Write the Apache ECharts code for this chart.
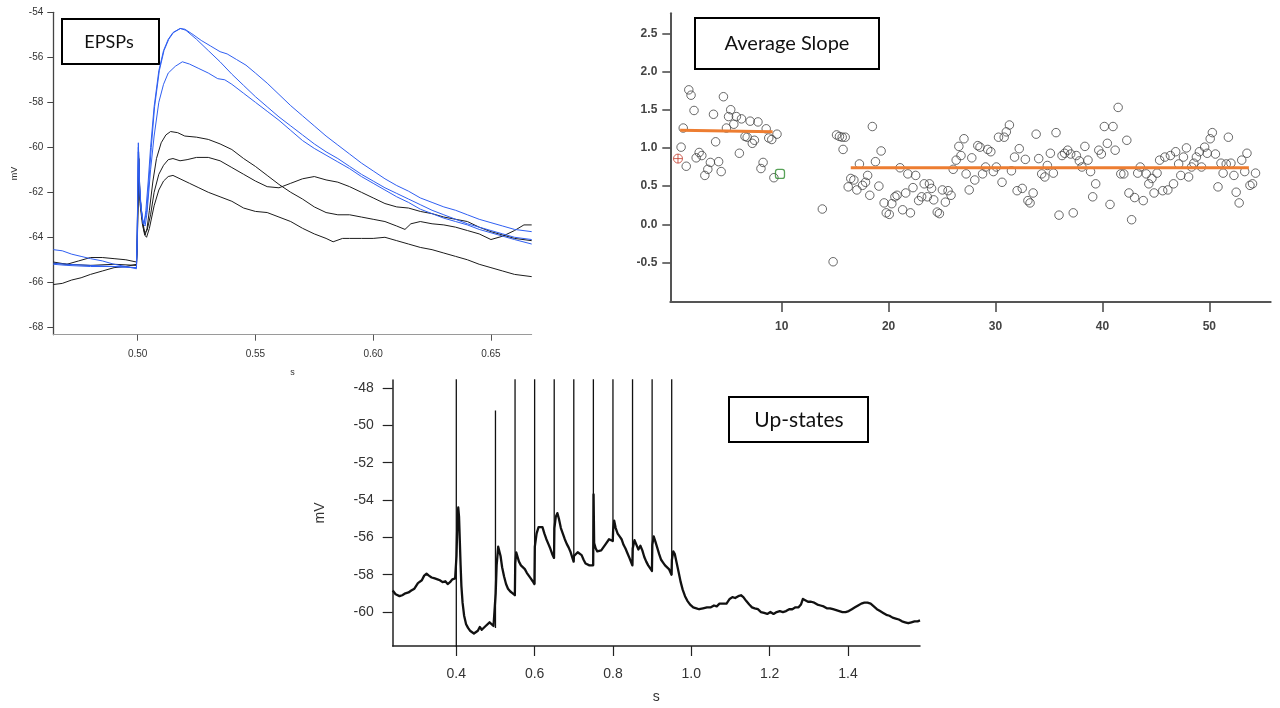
<!DOCTYPE html>
<html>
<head>
<meta charset="utf-8">
<script src="https://cdn.jsdelivr.net/npm/echarts@6/dist/echarts.min.js"></script>
<style>
  html, body { margin: 0; padding: 0; background: #ffffff; }
  #chart { width: 1280px; height: 708px; }
</style>
</head>
<body>
<div id="chart"></div>
<script>
// ---------- EPSPs: membrane potential traces (time s, mV) ----------
const epspXTicks = [0.50, 0.55, 0.60, 0.65];
const epspYTicks = [-68, -66, -64, -62, -60, -58, -56, -54];

const epspBlueA = [[0.4642,-64.55],[0.468,-64.6],[0.472,-64.75],[0.476,-64.85],[0.48,-64.95],[0.485,-65.05],[0.49,-65.2],[0.495,-65.3],[0.4995,-65.4],[0.4998,-64.2],[0.5003,-59.8],[0.5008,-61.5],[0.5013,-62.5],[0.5022,-63.3],[0.5028,-63.4],[0.5035,-62.8],[0.5045,-61.5],[0.5055,-60.0],[0.507,-58.2],[0.509,-56.6],[0.511,-55.7],[0.513,-55.2],[0.515,-54.9],[0.518,-54.72],[0.52,-54.75],[0.523,-54.95],[0.527,-55.25],[0.531,-55.5],[0.535,-55.75],[0.538,-55.85],[0.542,-56.1],[0.546,-56.35],[0.55,-56.7],[0.555,-57.15],[0.56,-57.65],[0.565,-58.15],[0.57,-58.6],[0.575,-59.05],[0.58,-59.5],[0.585,-59.9],[0.59,-60.3],[0.595,-60.7],[0.60,-61.05],[0.605,-61.4],[0.61,-61.7],[0.615,-61.95],[0.62,-62.25],[0.625,-62.45],[0.63,-62.65],[0.635,-62.8],[0.64,-63.0],[0.645,-63.2],[0.65,-63.35],[0.655,-63.5],[0.66,-63.65],[0.6673,-63.75]];
const epspBlueB = [[0.4642,-65.2],[0.47,-65.25],[0.48,-65.3],[0.49,-65.3],[0.4995,-65.35],[0.4998,-64.0],[0.5003,-60.0],[0.5008,-61.7],[0.5015,-62.7],[0.5024,-63.4],[0.503,-63.45],[0.5038,-62.9],[0.5048,-61.5],[0.5058,-60.0],[0.5072,-58.2],[0.5092,-56.6],[0.5112,-55.7],[0.5132,-55.2],[0.5152,-54.9],[0.5182,-54.72],[0.5205,-54.8],[0.525,-55.2],[0.53,-55.7],[0.535,-56.2],[0.54,-56.75],[0.545,-57.25],[0.55,-57.75],[0.555,-58.2],[0.56,-58.65],[0.565,-59.05],[0.57,-59.45],[0.575,-59.85],[0.58,-60.2],[0.585,-60.5],[0.59,-60.85],[0.595,-61.2],[0.60,-61.5],[0.605,-61.8],[0.61,-62.05],[0.615,-62.3],[0.62,-62.55],[0.625,-62.8],[0.63,-63.0],[0.635,-63.2],[0.64,-63.4],[0.645,-63.55],[0.65,-63.7],[0.655,-63.85],[0.66,-64.0],[0.6673,-64.1]];
const epspBlueC = [[0.4642,-65.15],[0.47,-65.2],[0.48,-65.25],[0.49,-65.3],[0.4995,-65.35],[0.4998,-64.3],[0.5003,-60.2],[0.5008,-61.8],[0.5015,-62.8],[0.5024,-63.4],[0.5032,-63.5],[0.504,-62.9],[0.5055,-61.0],[0.507,-59.5],[0.509,-58.0],[0.511,-57.2],[0.513,-56.7],[0.516,-56.4],[0.519,-56.2],[0.522,-56.3],[0.526,-56.5],[0.53,-56.7],[0.534,-56.95],[0.537,-57.0],[0.54,-57.2],[0.545,-57.6],[0.55,-58.0],[0.555,-58.4],[0.56,-58.8],[0.565,-59.25],[0.57,-59.7],[0.575,-60.05],[0.58,-60.35],[0.585,-60.65],[0.59,-60.95],[0.595,-61.3],[0.60,-61.6],[0.605,-61.9],[0.61,-62.2],[0.615,-62.45],[0.62,-62.75],[0.625,-62.95],[0.63,-63.15],[0.635,-63.3],[0.64,-63.45],[0.645,-63.65],[0.65,-63.8],[0.655,-63.95],[0.66,-64.1],[0.6673,-64.3]];
const epspBlackD = [[0.4642,-65.1],[0.47,-65.2],[0.475,-65.05],[0.48,-64.9],[0.485,-64.9],[0.49,-64.95],[0.495,-65.0],[0.4995,-65.1],[0.4998,-64.0],[0.5004,-60.2],[0.5009,-62.0],[0.5015,-62.8],[0.5025,-63.6],[0.5032,-63.9],[0.504,-63.6],[0.505,-62.8],[0.5065,-61.5],[0.508,-60.5],[0.51,-59.8],[0.512,-59.45],[0.514,-59.3],[0.517,-59.35],[0.52,-59.5],[0.525,-59.55],[0.53,-59.65],[0.535,-59.85],[0.54,-60.1],[0.545,-60.5],[0.55,-60.85],[0.555,-61.25],[0.56,-61.65],[0.565,-62.0],[0.57,-62.3],[0.575,-62.65],[0.58,-62.9],[0.585,-63.0],[0.59,-63.0],[0.595,-63.1],[0.60,-63.2],[0.605,-63.3],[0.61,-63.5],[0.6135,-63.65],[0.616,-63.4],[0.62,-63.3],[0.625,-63.4],[0.63,-63.45],[0.635,-63.55],[0.64,-63.7],[0.645,-63.85],[0.65,-64.1],[0.655,-63.95],[0.66,-63.7],[0.664,-63.45],[0.6673,-63.45]];
const epspBlackE = [[0.4642,-65.15],[0.47,-65.2],[0.48,-65.25],[0.49,-65.2],[0.4995,-65.25],[0.4998,-64.5],[0.5005,-60.5],[0.501,-62.2],[0.502,-63.2],[0.503,-63.8],[0.504,-63.7],[0.5055,-63.0],[0.507,-62.0],[0.509,-61.2],[0.511,-60.8],[0.513,-60.55],[0.515,-60.5],[0.518,-60.6],[0.521,-60.55],[0.525,-60.45],[0.53,-60.45],[0.535,-60.6],[0.54,-60.9],[0.545,-61.2],[0.55,-61.5],[0.555,-61.75],[0.56,-61.8],[0.565,-61.6],[0.57,-61.4],[0.575,-61.3],[0.58,-61.45],[0.585,-61.55],[0.59,-61.75],[0.595,-62.0],[0.60,-62.25],[0.605,-62.5],[0.61,-62.65],[0.615,-62.7],[0.62,-62.85],[0.625,-62.95],[0.63,-63.1],[0.635,-63.2],[0.64,-63.3],[0.645,-63.55],[0.65,-63.75],[0.655,-63.9],[0.66,-64.05],[0.6673,-64.15]];
const epspBlackF = [[0.4642,-66.1],[0.468,-66.05],[0.472,-65.9],[0.476,-65.8],[0.48,-65.65],[0.485,-65.5],[0.49,-65.35],[0.495,-65.3],[0.4995,-65.2],[0.4998,-64.6],[0.5005,-61.0],[0.501,-62.5],[0.502,-63.4],[0.503,-63.9],[0.5038,-64.0],[0.505,-63.6],[0.507,-62.6],[0.509,-61.9],[0.511,-61.5],[0.513,-61.3],[0.515,-61.25],[0.518,-61.4],[0.522,-61.6],[0.526,-61.8],[0.53,-62.0],[0.535,-62.2],[0.54,-62.4],[0.545,-62.7],[0.55,-62.85],[0.555,-62.9],[0.56,-63.1],[0.565,-63.3],[0.57,-63.6],[0.575,-63.85],[0.58,-64.05],[0.583,-64.2],[0.587,-64.05],[0.59,-64.05],[0.595,-64.05],[0.60,-64.05],[0.605,-64.0],[0.61,-64.15],[0.615,-64.3],[0.62,-64.45],[0.625,-64.55],[0.63,-64.7],[0.635,-64.85],[0.64,-65.0],[0.645,-65.2],[0.65,-65.35],[0.655,-65.5],[0.66,-65.65],[0.6673,-65.75]];

// ---------- Average slope per sweep ----------
const slopeXTicks = [10, 20, 30, 40, 50];
const slopeYTicks = [-0.5, 0.0, 0.5, 1.0, 1.5, 2.0, 2.5];

const slopeEarly = [[0.59,1.01],[0.79,1.26],[1.07,0.76],[1.31,1.76],[1.52,1.69],[1.80,1.49],[2.0,0.87],[2.28,0.94],[2.53,0.90],[2.81,0.64],[3.09,0.72],[3.33,0.81],[3.62,1.44],[3.82,1.08],[4.10,0.82],[4.34,0.69],[4.55,1.67],[4.83,1.26],[5.03,1.41],[5.23,1.50],[5.52,1.31],[5.76,1.41],[6.04,0.93],[6.24,1.38],[6.57,1.15],[6.77,1.14],[7.05,1.35],[7.25,1.06],[7.45,1.10],[7.78,1.34],[8.06,0.73],[8.26,0.81],[8.55,1.25],[8.79,1.13],[9.07,1.11],[9.27,0.61],[9.56,1.18]];
const slopeLate = [[13.8,0.20],[14.81,-0.49],[15.13,1.17],[15.4,1.15],[15.66,1.14],[15.94,1.14],[15.74,0.98],[16.22,0.49],[16.46,0.60],[16.75,0.58],[17.03,0.45],[17.27,0.79],[17.56,0.51],[17.84,0.55],[18.04,0.64],[18.24,0.38],[18.48,1.28],[18.77,0.82],[19.09,0.50],[19.3,0.96],[19.58,0.28],[19.78,0.15],[20.06,0.13],[20.3,0.27],[20.59,0.36],[20.79,0.38],[21.07,0.74],[21.31,0.19],[21.6,0.41],[21.8,0.66],[22.04,0.15],[22.28,0.48],[22.53,0.64],[22.81,0.31],[23.09,0.36],[23.33,0.53],[23.62,0.36],[23.82,0.53],[24.02,0.47],[24.22,0.32],[24.55,0.16],[24.75,0.14],[25.03,0.45],[25.31,0.29],[25.56,0.44],[25.84,0.38],[26.04,0.72],[26.32,0.84],[26.57,1.02],[26.77,0.90],[27.05,1.12],[27.25,0.66],[27.54,0.45],[27.78,0.87],[28.06,0.58],[28.34,1.03],[28.55,1.01],[28.79,0.66],[29.07,0.75],[29.27,0.98],[29.56,0.95],[29.8,0.69],[30.08,0.75],[30.28,1.14],[30.61,0.55],[30.81,1.14],[31.01,1.21],[31.3,1.30],[31.49,0.70],[31.78,0.88],[32.02,0.44],[32.22,0.99],[32.5,0.47],[32.79,0.85],[33.03,0.31],[33.23,0.28],[33.52,0.41],[33.8,1.18],[34.04,0.86],[34.32,0.66],[34.61,0.62],[34.85,0.77],[35.13,0.93],[35.41,0.67],[35.66,1.20],[35.94,0.12],[36.22,0.90],[36.46,0.93],[36.75,0.97],[37.03,0.92],[37.27,0.15],[37.56,0.90],[37.84,0.83],[38.08,0.75],[38.36,1.02],[38.65,0.84],[38.89,0.69],[39.09,0.36],[39.37,0.53],[39.66,0.97],[39.9,0.92],[40.18,1.28],[40.46,1.06],[40.71,0.26],[40.99,1.28],[41.19,0.97],[41.47,1.53],[41.72,0.66],[42.0,0.66],[42.28,1.10],[42.48,0.41],[42.73,0.06],[43.01,0.35],[43.3,0.67],[43.54,0.75],[43.82,0.31],[44.1,0.66],[44.34,0.53],[44.63,0.60],[44.83,0.41],[45.11,0.67],[45.35,0.84],[45.64,0.44],[45.84,0.88],[46.12,0.45],[46.36,0.90],[46.65,0.53],[46.85,0.95],[47.13,0.79],[47.33,0.64],[47.58,0.88],[47.86,1.00],[48.06,0.62],[48.34,0.75],[48.55,0.80],[48.79,0.88],[49.07,0.95],[49.27,0.75],[49.56,1.01],[49.8,0.93],[50.08,1.12],[50.28,1.20],[50.57,0.92],[50.81,0.49],[51.09,0.80],[51.29,0.67],[51.58,0.79],[51.78,1.14],[52.02,0.80],[52.3,0.64],[52.51,0.42],[52.79,0.28],[53.03,0.84],[53.31,0.69],[53.52,0.93],[53.8,0.51],[54.04,0.53],[54.32,0.67]];
const slopeFirstSweep = [[0.30, 0.86]];
const slopeLastBaseline = [[9.84, 0.66]];
const fitEarly = [[0.5, 1.23], [9.15, 1.21]];
const fitLate = [[16.46, 0.74], [53.7, 0.74]];

// ---------- Up-states: membrane potential (time s, mV) ----------
const upXTicks = [0.4, 0.6, 0.8, 1.0, 1.2, 1.4];
const upYTicks = [-60, -58, -56, -54, -52, -50, -48];

const upTrace = [[0.2376,-58.85],[0.245,-59.05],[0.255,-59.15],[0.262,-59.1],[0.27,-59.0],[0.278,-58.95],[0.285,-58.85],[0.293,-58.75],[0.298,-58.75],[0.302,-58.45],[0.307,-58.35],[0.312,-58.3],[0.318,-58.05],[0.324,-57.95],[0.33,-58.05],[0.337,-58.15],[0.345,-58.2],[0.352,-58.25],[0.358,-58.3],[0.365,-58.4],[0.372,-58.35],[0.378,-58.5],[0.384,-58.4],[0.39,-58.25],[0.397,-58.2],[0.3995,-58.2],
  [0.4005,-57.0],[0.403,-55.0],[0.405,-54.4],[0.407,-54.9],[0.409,-56.2],[0.411,-57.5],[0.413,-58.6],[0.416,-59.5],[0.42,-60.2],[0.425,-60.65],[0.43,-60.85],[0.435,-61.0],[0.44,-61.05],[0.445,-61.15],[0.45,-61.2],[0.455,-61.0],[0.46,-60.8],[0.465,-60.95],[0.47,-60.85],[0.475,-60.75],[0.48,-60.65],[0.485,-60.55],[0.49,-60.6],[0.495,-60.75],[0.4995,-60.85],
  [0.5005,-59.0],[0.503,-57.5],[0.507,-56.5],[0.51,-56.6],[0.513,-57.0],[0.517,-57.6],[0.522,-58.1],[0.527,-58.5],[0.532,-58.75],[0.538,-58.9],[0.544,-59.0],[0.5495,-59.1],
  [0.5505,-57.4],[0.553,-56.8],[0.556,-56.9],[0.56,-57.3],[0.565,-57.5],[0.57,-57.55],[0.575,-57.7],[0.58,-57.9],[0.585,-58.05],[0.59,-58.2],[0.595,-58.35],[0.5995,-58.5],
  [0.6005,-56.5],[0.605,-55.8],[0.61,-55.45],[0.615,-55.35],[0.62,-55.45],[0.625,-55.8],[0.63,-56.1],[0.635,-56.35],[0.64,-56.6],[0.645,-56.9],[0.6495,-57.1],
  [0.6505,-55.5],[0.654,-54.9],[0.658,-54.7],[0.662,-55.0],[0.667,-55.5],[0.672,-55.8],[0.677,-56.1],[0.682,-56.35],[0.687,-56.55],[0.692,-56.8],[0.6995,-57.3],
  [0.7005,-57.0],[0.705,-56.95],[0.71,-56.8],[0.715,-56.75],[0.72,-56.95],[0.725,-57.2],[0.73,-57.4],[0.735,-57.5],[0.74,-57.5],[0.745,-57.55],[0.7495,-57.5],
  [0.7505,-53.7],[0.752,-56.3],[0.756,-56.6],[0.76,-56.75],[0.765,-56.8],[0.77,-56.7],[0.775,-56.6],[0.78,-56.4],[0.785,-56.3],[0.79,-56.1],[0.795,-56.0],[0.7995,-56.2],
  [0.8005,-55.6],[0.803,-55.1],[0.807,-55.5],[0.812,-55.8],[0.817,-55.95],[0.822,-56.1],[0.827,-56.4],[0.832,-56.6],[0.837,-56.85],[0.842,-57.1],[0.8495,-57.5],
  [0.8505,-56.6],[0.855,-56.15],[0.86,-56.4],[0.865,-56.65],[0.87,-56.45],[0.875,-56.7],[0.88,-57.05],[0.885,-57.3],[0.89,-57.5],[0.8995,-57.8],
  [0.9005,-56.4],[0.904,-55.95],[0.908,-56.2],[0.913,-56.55],[0.918,-56.9],[0.923,-57.2],[0.928,-57.35],[0.933,-57.5],[0.938,-57.55],[0.943,-57.7],[0.9495,-58.0],
  [0.9505,-57.2],[0.954,-56.75],[0.958,-56.9],[0.963,-57.4],[0.968,-57.9],[0.973,-58.4],[0.978,-58.8],[0.984,-59.15],[0.99,-59.4],[0.997,-59.6],[1.005,-59.75],[1.013,-59.8],[1.02,-59.85],[1.03,-59.8],[1.04,-59.75],[1.05,-59.75],[1.058,-59.65],[1.065,-59.7],[1.072,-59.55],[1.08,-59.55],[1.09,-59.55],[1.098,-59.3],[1.105,-59.2],[1.112,-59.25],[1.12,-59.15],[1.127,-59.1],[1.133,-59.2],[1.14,-59.4],[1.148,-59.6],[1.155,-59.75],[1.162,-59.8],[1.17,-59.85],[1.178,-60.0],[1.186,-60.05],[1.194,-60.1],[1.202,-60.0],[1.21,-60.1],[1.218,-60.0],[1.226,-59.95],[1.234,-60.0],[1.242,-59.95],[1.25,-59.85],[1.258,-59.85],[1.266,-59.75],[1.274,-59.75],[1.28,-59.6],[1.285,-59.3],[1.29,-59.35],[1.298,-59.45],[1.306,-59.45],[1.314,-59.5],[1.322,-59.6],[1.33,-59.65],[1.338,-59.7],[1.346,-59.8],[1.354,-59.8],[1.362,-59.85],[1.37,-59.9],[1.378,-59.95],[1.386,-60.0],[1.394,-60.0],[1.402,-59.95],[1.41,-59.85],[1.418,-59.75],[1.426,-59.65],[1.434,-59.55],[1.442,-59.5],[1.45,-59.5],[1.458,-59.55],[1.466,-59.7],[1.474,-59.85],[1.482,-59.95],[1.49,-60.05],[1.498,-60.15],[1.506,-60.2],[1.514,-60.3],[1.522,-60.35],[1.53,-60.4],[1.538,-60.5],[1.546,-60.55],[1.554,-60.6],[1.562,-60.55],[1.57,-60.5],[1.578,-60.5],[1.584,-60.45]];

// action potentials: time, foot and peak (peaks run off the top of the plot)
const spikeTimes = [0.40, 0.50, 0.55, 0.60, 0.65, 0.70, 0.75, 0.80, 0.85, 0.90, 0.95];
const spikeFoot  = [-62.5, -60.85, -59.1, -58.5, -57.1, -57.3, -57.5, -56.2, -57.5, -57.8, -58.0];
const spikePeak  = [0, -49.2, 0, 0, 0, 0, 0, 0, 0, 0, 0];

// ---------- chart ----------
const chart = echarts.init(document.getElementById('chart'), null, { renderer: 'canvas' });

const BLUE = '#2f5ff2';
const BLACK = '#1c1c1c';
const ORANGE = '#ed7d31';

function traceSeries(data, color, width) {
  return {
    type: 'line', data: data, xAxisIndex: 0, yAxisIndex: 0,
    showSymbol: false, symbol: 'none', clip: true,
    lineStyle: { color: color, width: width || 1 },
    emphasis: { disabled: true }, silent: true
  };
}

const spikeSeries = spikeTimes.map((t, i) => ({
  type: 'line', xAxisIndex: 2, yAxisIndex: 2,
  data: [[t, spikeFoot[i]], [t, spikePeak[i]]],
  showSymbol: false, symbol: 'none', clip: true,
  lineStyle: { color: '#111', width: 1.3 }, silent: true
}));

const option = {
  animation: false,
  backgroundColor: '#ffffff',
  grid: [
    { left: 53.3, top: 12.3, width: 478.4, height: 322.4 },
    { left: 670.3, top: 13.3, width: 600.4, height: 288.7 },
    { left: 392.7, top: 380, width: 527.3, height: 266 }
  ],
  xAxis: [
    {
      gridIndex: 0, type: 'value', min: 0.4642, max: 0.6673,
      name: 's', nameLocation: 'middle', nameGap: 33,
      nameTextStyle: { fontFamily: 'Liberation Sans', fontSize: 9, color: '#333' },
      axisLine: { onZero: false, lineStyle: { color: '#9a9a9a', width: 1 } },
      axisTick: { customValues: epspXTicks, length: 6, lineStyle: { color: '#555' } },
      axisLabel: { customValues: epspXTicks, margin: 15, fontFamily: 'Liberation Sans', fontSize: 10, color: '#333',
                   formatter: v => v.toFixed(2) },
      splitLine: { show: false }
    },
    {
      gridIndex: 1, type: 'value', min: -0.42, max: 55.74,
      axisLine: { onZero: false, lineStyle: { color: '#555', width: 2 } },
      axisTick: { customValues: slopeXTicks, length: 10, lineStyle: { color: '#444', width: 1.5 } },
      axisLabel: { customValues: slopeXTicks, margin: 19, fontFamily: 'Liberation Sans', fontSize: 12, fontWeight: 'bold', color: '#444' },
      splitLine: { show: false }
    },
    {
      gridIndex: 2, type: 'value', min: 0.2376, max: 1.584,
      name: 's', nameLocation: 'middle', nameGap: 44,
      nameTextStyle: { fontFamily: 'Liberation Sans', fontSize: 14, color: '#333' },
      axisLine: { onZero: false, lineStyle: { color: '#222', width: 1.5 } },
      axisTick: { customValues: upXTicks, length: 10, lineStyle: { color: '#222', width: 1.2 } },
      axisLabel: { customValues: upXTicks, margin: 21, fontFamily: 'Liberation Sans', fontSize: 14, color: '#333',
                   formatter: v => v.toFixed(1) },
      splitLine: { show: false }
    }
  ],
  yAxis: [
    {
      gridIndex: 0, type: 'value', min: -68.33, max: -54,
      name: 'mV', nameLocation: 'middle', nameGap: 34, nameRotate: 90,
      nameTextStyle: { fontFamily: 'Liberation Sans', fontSize: 9, color: '#333' },
      axisLine: { onZero: false, lineStyle: { color: '#444', width: 1.3 } },
      axisTick: { customValues: epspYTicks, length: 6, lineStyle: { color: '#444' } },
      axisLabel: { customValues: epspYTicks, margin: 10, fontFamily: 'Liberation Sans', fontSize: 10, color: '#333' },
      splitLine: { show: false }
    },
    {
      gridIndex: 1, type: 'value', min: -1.017, max: 2.762,
      axisLine: { onZero: false, lineStyle: { color: '#555', width: 2 } },
      axisTick: { customValues: slopeYTicks, length: 8, lineStyle: { color: '#444', width: 1.5 } },
      axisLabel: { customValues: slopeYTicks, margin: 13, fontFamily: 'Liberation Sans', fontSize: 12, fontWeight: 'bold', color: '#444',
                   formatter: v => v.toFixed(1) },
      splitLine: { show: false }
    },
    {
      gridIndex: 2, type: 'value', min: -61.82, max: -47.57,
      name: 'mV', nameLocation: 'middle', nameGap: 66, nameRotate: 90,
      nameTextStyle: { fontFamily: 'Liberation Sans', fontSize: 14, color: '#333' },
      axisLine: { onZero: false, lineStyle: { color: '#222', width: 1.5 } },
      axisTick: { customValues: upYTicks, length: 10, lineStyle: { color: '#222', width: 1.2 } },
      axisLabel: { customValues: upYTicks, margin: 19, fontFamily: 'Liberation Sans', fontSize: 14, color: '#333' },
      splitLine: { show: false }
    }
  ],
  series: [
    traceSeries(epspBlackF, BLACK),
    traceSeries(epspBlackE, BLACK),
    traceSeries(epspBlackD, BLACK),
    traceSeries(epspBlueC, BLUE),
    traceSeries(epspBlueB, BLUE),
    traceSeries(epspBlueA, BLUE),

    {
      type: 'scatter', xAxisIndex: 1, yAxisIndex: 1, data: slopeEarly.concat(slopeLate),
      symbol: 'circle', symbolSize: 8.5,
      itemStyle: { color: 'rgba(0,0,0,0)', borderColor: '#444', borderWidth: 1 }, silent: true
    },
    {
      type: 'scatter', xAxisIndex: 1, yAxisIndex: 1, data: slopeFirstSweep,
      symbol: 'path://M0,5A5,5 0 1,1 10,5A5,5 0 1,1 0,5ZM5,0L5,10M0,5L10,5', symbolSize: 9,
      itemStyle: { color: 'rgba(0,0,0,0)', borderColor: '#c0392b', borderWidth: 1 }, silent: true
    },
    {
      type: 'scatter', xAxisIndex: 1, yAxisIndex: 1, data: slopeLastBaseline,
      symbol: 'roundRect', symbolSize: 9,
      itemStyle: { color: 'rgba(0,0,0,0)', borderColor: '#2e8b2e', borderWidth: 1.3 }, silent: true
    },
    {
      type: 'line', xAxisIndex: 1, yAxisIndex: 1, data: fitEarly, showSymbol: false, symbol: 'none',
      lineStyle: { color: ORANGE, width: 3 }, silent: true, z: 3
    },
    {
      type: 'line', xAxisIndex: 1, yAxisIndex: 1, data: fitLate, showSymbol: false, symbol: 'none',
      lineStyle: { color: ORANGE, width: 3 }, silent: true, z: 3
    },

    {
      type: 'line', xAxisIndex: 2, yAxisIndex: 2, data: upTrace, showSymbol: false, symbol: 'none', clip: true,
      lineStyle: { color: '#111', width: 2.3, join: 'round' }, silent: true
    }
  ].concat(spikeSeries),
  graphic: [
    {
      type: 'group', left: 61, top: 18, children: [
        { type: 'rect', shape: { x: 0, y: 0, width: 97, height: 45 }, style: { fill: '#fff', stroke: '#000', lineWidth: 2 } },
        { type: 'text', x: 47, y: 23, style: { text: 'EPSPs', fontFamily: 'Lato', fontSize: 18, fill: '#111', align: 'center', verticalAlign: 'middle' } }
      ]
    },
    {
      type: 'group', left: 694, top: 17, children: [
        { type: 'rect', shape: { x: 0, y: 0, width: 184, height: 51 }, style: { fill: '#fff', stroke: '#000', lineWidth: 2 } },
        { type: 'text', x: 92, y: 26, style: { text: 'Average Slope', fontFamily: 'Lato', fontSize: 20, fill: '#111', align: 'center', verticalAlign: 'middle' } }
      ]
    },
    {
      type: 'group', left: 728, top: 396, children: [
        { type: 'rect', shape: { x: 0, y: 0, width: 139, height: 45 }, style: { fill: '#fff', stroke: '#000', lineWidth: 2 } },
        { type: 'text', x: 70, y: 23, style: { text: 'Up-states', fontFamily: 'Lato', fontSize: 21, fill: '#111', align: 'center', verticalAlign: 'middle' } }
      ]
    }
  ]
};

chart.setOption(option);
</script>
</body>
</html>
